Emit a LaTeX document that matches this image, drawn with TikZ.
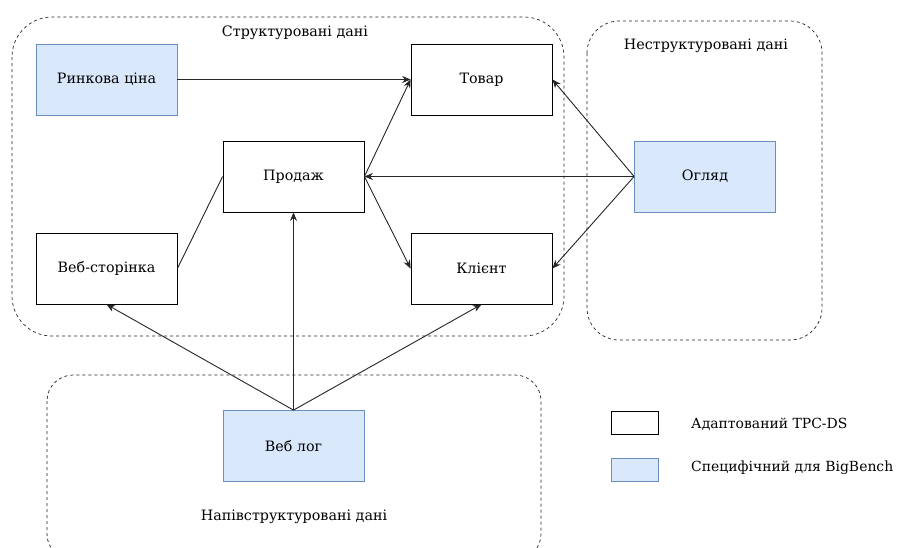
\documentclass[tikz,border=0pt]{standalone}
\usepackage{fontspec}
\setmainfont{DejaVu Serif}
\usetikzlibrary{arrows.meta}
\definecolor{bbfill}{HTML}{DAE8FC}
\definecolor{bbdraw}{HTML}{6C8EBF}
\tikzset{
  txt/.style={font=\fontsize{14.3}{17}\selectfont},
  entity/.style={draw=black, line width=0.8pt, minimum width=141pt, minimum height=71pt, inner sep=0pt, txt},
  bbentity/.style={entity, draw=bbdraw, fill=bbfill},
  group/.style={draw=black!85, line width=0.7pt, dash pattern=on 3pt off 3pt},
  grouplabel/.style={txt, inner sep=0pt},
  legendbox/.style={draw=black, line width=0.8pt, minimum width=47pt, minimum height=23pt, inner sep=0pt},
  legendtext/.style={anchor=west, font=\fontsize{13.95}{16}\selectfont, inner sep=0pt},
  link/.style={draw=black!85, line width=0.9pt},
  arrow/.style={link, -{Stealth[length=8.5pt,width=7pt]}}
}
\begin{document}
\begin{tikzpicture}[x=1pt,y=-1pt]
\clip (0,0) rectangle (897,547);
\fill[white] (0,0) rectangle (897,547);

% data groups
\draw[group, rounded corners=40pt] (12,17) rectangle (564,336);
\draw[group, rounded corners=32pt] (587,21) rectangle (822,340);
\draw[group, rounded corners=26pt] (47,375) rectangle (541,560);
\node[grouplabel] (lstruct) at (295,33) {Структуровані дані};
\node[grouplabel] (lunstruct) at (706,46) {Неструктуровані дані};
\node[grouplabel] (lsemi) at (294,517) {Напівструктуровані дані};

% entities
\node[bbentity] (price) at (106.5,79.5) {Ринкова ціна};
\node[entity] (item) at (481.5,79.5) {Товар};
\node[entity] (sale) at (293.5,176.5) {Продаж};
\node[entity] (page) at (106.5,268.5) {Веб-сторінка};
\node[entity] (cust) at (481.5,268.5) {Клієнт};
\node[bbentity] (review) at (705,176.5) {Огляд};
\node[bbentity] (weblog) at (293.5,446) {Веб лог};

% relations
\draw[arrow] (price.east) -- (item.west);
\draw[arrow] (sale.east) -- (item.west);
\draw[arrow] (sale.east) -- (cust.west);
\draw[arrow] (review.west) -- (sale.east);
\draw[arrow] (review.west) -- (item.east);
\draw[arrow] (review.west) -- (cust.east);
\draw[link] (page.east) -- (sale.west);
\draw[arrow] (weblog.north) -- (page.south);
\draw[arrow] (weblog.north) -- (sale.south);
\draw[arrow] (weblog.north) -- (cust.south);

% legend
\node[legendbox] (lgtpc) at (634.5,422.5) {};
\node[legendbox, draw=bbdraw, fill=bbfill] (lgbb) at (634.5,469.5) {};
\node[legendtext] (lgtpctext) at (691,424) {Адаптований TPC-DS};
\node[legendtext] (lgbbtext) at (691,468) {Специфічний для BigBench};
\end{tikzpicture}
\end{document}
